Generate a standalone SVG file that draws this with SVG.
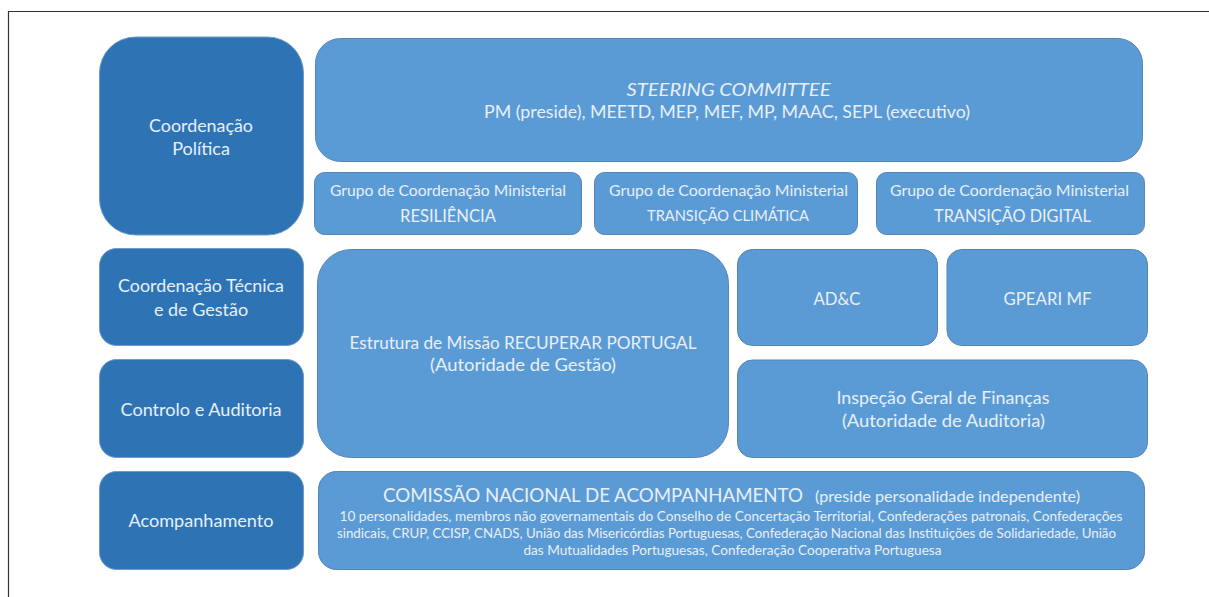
<svg xmlns="http://www.w3.org/2000/svg" width="1209" height="597" viewBox="0 0 1209 597">
  <style>
    .dark { fill: #2E74B5; stroke: #6E9BCB; stroke-width: 1; }
    .light { fill: #5B9BD5; stroke: #5485B6; stroke-width: 1; }
    text { font-family: Lato, "Liberation Sans", sans-serif; fill: #E8EFF8; text-anchor: middle; }
    .l { font-size: 18px; }
    .g1 { font-size: 14.5px; }
    .sm { font-size: 12.5px; }
  </style>
  <rect width="1209" height="597" fill="#FFFFFF"/>
  <path d="M8.5,597 V11.5 H1209" fill="none" stroke="#333333" stroke-width="1.2"/>

  <g id="connectors"></g>

  <g id="coordenacao-politica">
    <rect class="dark" x="99.5" y="37" width="204" height="198" rx="36"/>
    <text class="l" x="201" y="131.5" textLength="104" lengthAdjust="spacingAndGlyphs">Coordenação</text>
    <text class="l" x="201" y="154.5">Política</text>
  </g>

  <g id="coordenacao-tecnica">
    <rect class="dark" x="99.5" y="248.5" width="204" height="97" rx="17"/>
    <text class="l" x="201" y="291.5" textLength="166" lengthAdjust="spacingAndGlyphs">Coordenação Técnica</text>
    <text class="l" x="201" y="315.5">e de Gestão</text>
  </g>

  <g id="controlo-auditoria">
    <rect class="dark" x="99.5" y="359.5" width="204" height="98" rx="17"/>
    <text class="l" x="201" y="415.5" textLength="161" lengthAdjust="spacingAndGlyphs">Controlo e Auditoria</text>
  </g>

  <g id="acompanhamento">
    <rect class="dark" x="99.5" y="471.5" width="204" height="98" rx="17"/>
    <text class="l" x="201" y="527" textLength="145" lengthAdjust="spacingAndGlyphs">Acompanhamento</text>
  </g>

  <g id="steering-committee">
    <rect class="light" x="315.5" y="38.5" width="827" height="123" rx="25"/>
    <text class="l" x="728.5" y="96" font-style="italic" textLength="204" lengthAdjust="spacingAndGlyphs">STEERING COMMITTEE</text>
    <text class="l" x="727" y="117.5" textLength="486" lengthAdjust="spacingAndGlyphs">PM (preside), MEETD, MEP, MEF, MP, MAAC, SEPL (executivo)</text>
  </g>

  <g id="gcm-resiliencia">
    <rect class="light" x="314.5" y="172.5" width="267" height="62" rx="10"/>
    <text class="g1" x="448" y="196" textLength="236" lengthAdjust="spacingAndGlyphs">Grupo de Coordenação Ministerial</text>
    <text x="448" y="221.5" font-size="16.5" textLength="96" lengthAdjust="spacingAndGlyphs">RESILIÊNCIA</text>
  </g>

  <g id="gcm-transicao-climatica">
    <rect class="light" x="594.5" y="172.5" width="263" height="62" rx="10"/>
    <text class="g1" x="728.5" y="196" textLength="239" lengthAdjust="spacingAndGlyphs">Grupo de Coordenação Ministerial</text>
    <text x="728" y="221" font-size="15" textLength="162" lengthAdjust="spacingAndGlyphs">TRANSIÇÃO CLIMÁTICA</text>
  </g>

  <g id="gcm-transicao-digital">
    <rect class="light" x="876.5" y="172.5" width="268" height="62" rx="10"/>
    <text class="g1" x="1009.5" y="196" textLength="239" lengthAdjust="spacingAndGlyphs">Grupo de Coordenação Ministerial</text>
    <text x="1012.5" y="222" font-size="17" textLength="157" lengthAdjust="spacingAndGlyphs">TRANSIÇÃO DIGITAL</text>
  </g>

  <g id="estrutura-missao">
    <rect class="light" x="317.5" y="249.5" width="411" height="208" rx="34"/>
    <text x="523" y="349" font-size="17.5" textLength="347" lengthAdjust="spacingAndGlyphs">Estrutura de Missão RECUPERAR PORTUGAL</text>
    <text x="523" y="371" font-size="17.5" textLength="186" lengthAdjust="spacingAndGlyphs">(Autoridade de Gestão)</text>
  </g>

  <g id="adc">
    <rect class="light" x="737.5" y="249.5" width="200" height="96" rx="15"/>
    <text x="837" y="305" font-size="17.5" textLength="47" lengthAdjust="spacingAndGlyphs">AD&amp;C</text>
  </g>

  <g id="gpeari-mf">
    <rect class="light" x="947" y="249.5" width="200.5" height="96" rx="15"/>
    <text x="1047.5" y="305" font-size="17.5" textLength="88" lengthAdjust="spacingAndGlyphs">GPEARI MF</text>
  </g>

  <g id="inspecao-geral-financas">
    <rect class="light" x="737.5" y="360" width="410" height="97.5" rx="15"/>
    <text x="943" y="404" font-size="17.5" textLength="213" lengthAdjust="spacingAndGlyphs">Inspeção Geral de Finanças</text>
    <text x="943.4" y="426.5" font-size="17.5" textLength="203" lengthAdjust="spacingAndGlyphs">(Autoridade de Auditoria)</text>
  </g>

  <g id="comissao-nacional">
    <rect class="light" x="318.5" y="471.5" width="826" height="98" rx="18"/>
    <text x="383" y="501.5" style="text-anchor:start" font-size="20" textLength="420" lengthAdjust="spacingAndGlyphs">COMISSÃO NACIONAL DE ACOMPANHAMENTO</text>
    <text x="815" y="501.5" style="text-anchor:start" font-size="15" textLength="265" lengthAdjust="spacingAndGlyphs">(preside personalidade independente)</text>
    <text class="sm" x="731" y="521" textLength="783" lengthAdjust="spacingAndGlyphs">10 personalidades, membros não governamentais do Conselho de Concertação Territorial, Confederações patronais, Confederações</text>
    <text class="sm" x="726.5" y="538" textLength="779" lengthAdjust="spacingAndGlyphs">sindicais, CRUP, CCISP, CNADS, União das Misericórdias Portuguesas, Confederação Nacional das Instituições de Solidariedade, União</text>
    <text class="sm" x="732.5" y="555" textLength="418" lengthAdjust="spacingAndGlyphs">das Mutualidades Portuguesas, Confederação Cooperativa Portuguesa</text>
  </g>
</svg>
